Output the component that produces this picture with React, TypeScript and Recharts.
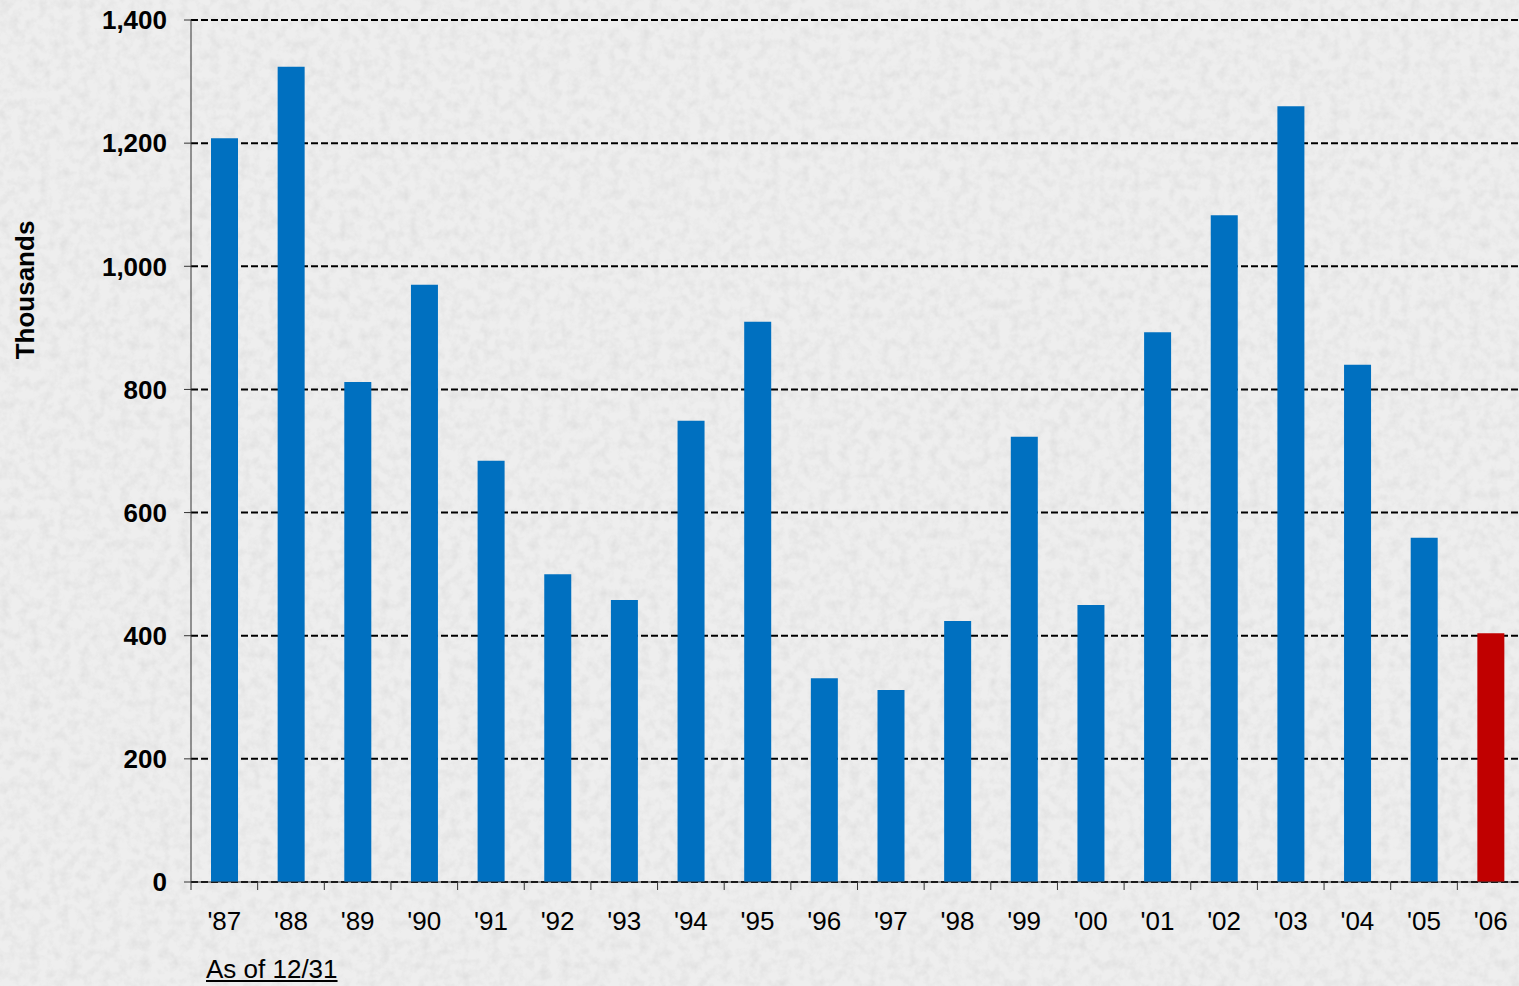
import React from "react";
import { BarChart, Bar, XAxis, YAxis, CartesianGrid, Cell } from "recharts";

// values in thousands, as of 12/31
const years = ["'87", "'88", "'89", "'90", "'91", "'92", "'93", "'94", "'95", "'96", "'97", "'98", "'99", "'00", "'01", "'02", "'03", "'04", "'05", "'06"];
const values = [1208, 1324, 812, 970, 684, 500, 458, 749, 910, 331, 312, 424, 723, 450, 893, 1083, 1260, 840, 559, 404];
const yTicks = [0, 200, 400, 600, 800, 1000, 1200, 1400];
const currentYear = "'06";

const data = years.map((year, i) => ({ year, value: values[i] }));

const BLUE = "#0070C0";
const RED = "#C00000";
const FONT = "Arial, 'Liberation Sans', Helvetica, sans-serif";
const X_TICK_SIZE = 8;
const X_TICK_MARGIN = 22;

const XTick = (props: any) => {
  const { x, y, payload } = props;
  const half = payload?.offset ?? 33.3;
  return (
    <g>
      <line
        x1={x - half}
        x2={x - half}
        y1={y - X_TICK_SIZE - X_TICK_MARGIN}
        y2={y - X_TICK_MARGIN}
        stroke="#333"
        strokeWidth={1}
      />
      <text x={x} y={y} dy="0.71em" textAnchor="middle" fontSize={26} fontFamily={FONT} fill="#000">
        {payload.value}
      </text>
    </g>
  );
};

const YLabel = () => (
  <text
    x={25}
    y={290}
    transform="rotate(-90 25 290)"
    textAnchor="middle"
    dominantBaseline="central"
    fontSize={26}
    fontWeight={700}
    fontFamily={FONT}
    fill="#000"
  >
    Thousands
  </text>
);

const Background = () => (
  <svg width={1519} height={986} style={{ position: "absolute", left: 0, top: 0 }}>
    <defs>
      <filter id="grain" x="0" y="0" width="100%" height="100%">
        <feTurbulence type="fractalNoise" baseFrequency="0.1" numOctaves={3} seed={4} result="noise" />
        <feColorMatrix
          in="noise"
          type="matrix"
          values="0 0 0 0 0.6  0 0 0 0 0.6  0 0 0 0 0.6  0 0 0 -1.8 1.1"
        />
      </filter>
    </defs>
    <rect width={1519} height={986} fill="#eeeeee" />
    <rect width={1519} height={986} filter="url(#grain)" opacity={0.4} />
  </svg>
);

export default function App() {
  return (
    <div style={{ position: "fixed", left: 0, top: 0, width: 1519, height: 986, overflow: "hidden", fontFamily: FONT }}>
      <Background />
      <div style={{ position: "absolute", left: 0, top: 0 }}>
        <BarChart width={1524} height={986} data={data} margin={{ top: 20, right: 0, bottom: 64, left: 0 }}>
          <CartesianGrid vertical={false} stroke="#000" strokeWidth={2} strokeDasharray="7 3" />
          <XAxis
            dataKey="year"
            height={40}
            tickLine={false}
            tickSize={X_TICK_SIZE}
            tickMargin={X_TICK_MARGIN}
            axisLine={{ stroke: "#333", strokeWidth: 1 }}
            tick={<XTick />}
            interval={0}
          />
          <YAxis
            width={191}
            domain={[0, 1400]}
            ticks={yTicks}
            tickSize={7}
            tickMargin={17}
            tickLine={{ stroke: "#333", strokeWidth: 1 }}
            axisLine={{ stroke: "#333", strokeWidth: 1 }}
            tick={{ fontSize: 26, fontWeight: 700, fill: "#000", fontFamily: FONT }}
            tickFormatter={(v: number) => v.toLocaleString("en-US")}
            label={<YLabel />}
          />
          <Bar dataKey="value" barSize={27} isAnimationActive={false}>
            {data.map((d) => (
              <Cell key={d.year} fill={d.year === currentYear ? RED : BLUE} />
            ))}
          </Bar>
        </BarChart>
      </div>
      <div
        style={{
          position: "absolute",
          left: 206,
          top: 954,
          fontSize: 26,
          textDecoration: "underline",
          color: "#000",
          fontFamily: FONT,
        }}
      >
        As of 12/31
      </div>
    </div>
  );
}
